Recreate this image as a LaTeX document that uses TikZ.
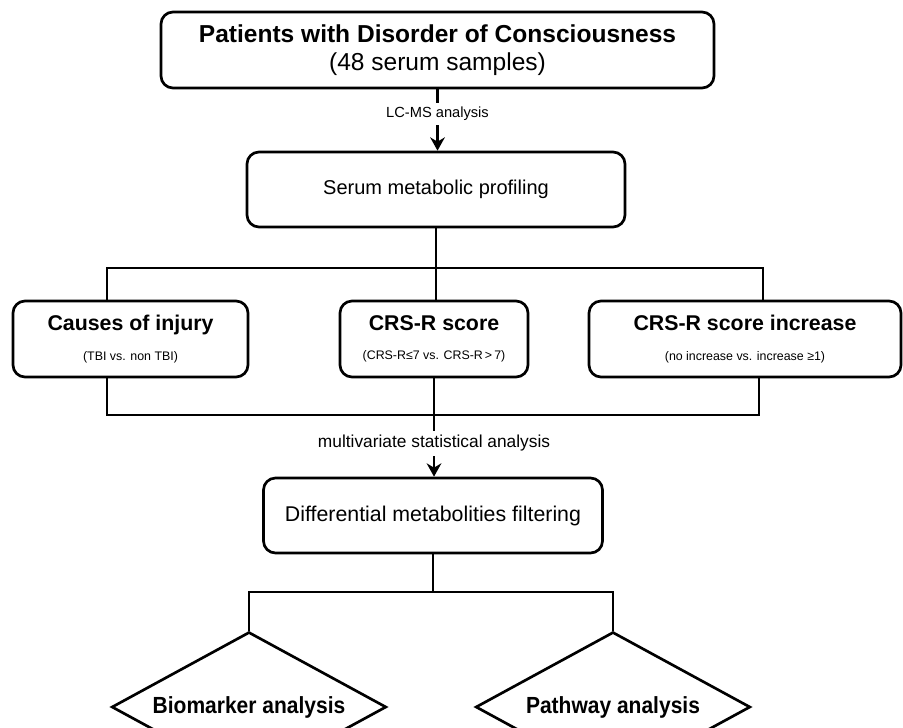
\documentclass[tikz,border=0pt]{standalone}
\usepackage{fontspec}
\setmainfont{Liberation Sans}
\newfontfamily\narrowsans[FakeStretch=0.9]{Liberation Sans}
\usetikzlibrary{arrows.meta,shapes.geometric}

\begin{document}
\begin{tikzpicture}[x=0.75pt, y=-0.75pt,
    box/.style={draw, rounded corners=9pt, line width=2pt, align=center, inner sep=0pt},
    group/.style={box, minimum height=57pt, font=\fontsize{16}{22}\selectfont},
    dia/.style={draw, diamond, aspect=2, line width=2pt, inner sep=0pt,
        minimum width=206pt, minimum height=112.5pt, font=\narrowsans\bfseries\fontsize{17.5}{20}\selectfont},
    link/.style={line width=1.7pt},
    flow/.style={link, -{Stealth[length=10pt, width=11pt]}}]
    \useasboundingbox (0,0) rectangle (903,728);
    \clip (0,0) rectangle (903,728);

    \node[box, minimum width=414.75pt, minimum height=57pt, font=\fontsize{18.4}{21}\selectfont]
        (top) at (437.5,50) {\bfseries Patients with Disorder of Consciousness\\(48 serum samples)};
    \node[box, minimum width=283.5pt, minimum height=56.25pt, font=\fontsize{15}{18}\selectfont]
        (prof) at (436,189.5) {Serum metabolic profiling};

    \node[group, minimum width=176.25pt] (cause) at (130.5,339)
        {\bfseries Causes of injury\\{\fontsize{9.3}{22}\selectfont (TBI vs. non TBI)}};
    \node[group, minimum width=141pt] (crs) at (434,339)
        {\bfseries CRS-R score\\{\fontsize{9.3}{22}\selectfont (CRS-R≤7 vs. CRS-R\,>\,7)}};
    \node[group, minimum width=234pt] (incr) at (745,339)
        {\bfseries CRS-R score increase\\{\fontsize{9.3}{22}\selectfont (no increase vs. increase ≥1)}};

    \node[box, minimum width=254.25pt, minimum height=56.25pt, font=\fontsize{16}{19}\selectfont]
        (filt) at (433,515.5) {Differential metabolities filtering};

    \node[dia] (bio) at (249,707) {Biomarker analysis};
    \node[dia] (path) at (613,707) {Pathway analysis};

    % bracket corners
    \coordinate (b1l) at (107,268);
    \coordinate (b1r) at (763,268);
    \coordinate (b2l) at (107,415);
    \coordinate (b2r) at (759,415);
    \coordinate (b3) at (433,592);

    \draw[flow] (top.south) -- node[pos=.4, fill=white, font=\fontsize{11}{13}\selectfont] {LC-MS analysis} (top.south |- prof.north);
    \draw[link] (prof.south) -- (prof.south |- crs.north);
    \draw[link] (cause.north -| b1l) -- (b1l) -- (b1r) -- (incr.north -| b1r);
    \draw[link] (cause.south -| b2l) -- (b2l) -- (b2r) -- (incr.south -| b2r);
    \draw[flow] (crs.south) -- node[pos=.66, fill=white, font=\fontsize{13}{15}\selectfont] {multivariate statistical analysis} (crs.south |- filt.north);
    \draw[link] (filt.south) -- (filt.south |- b3);
    \draw[link] (bio.north) -- (bio.north |- b3) -- (path.north |- b3) -- (path.north);
\end{tikzpicture}
\end{document}
